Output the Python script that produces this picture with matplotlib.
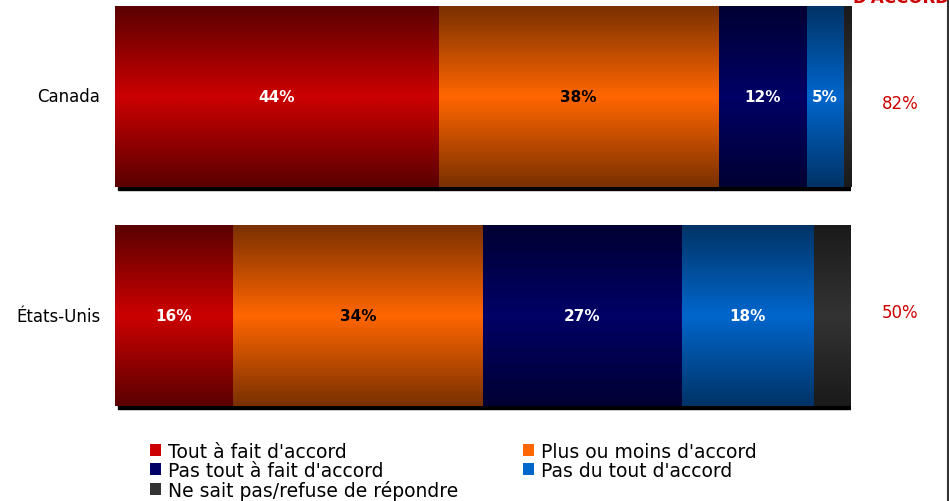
import numpy as np
import matplotlib
matplotlib.use("Agg")
import matplotlib.pyplot as plt
from matplotlib.colors import LinearSegmentedColormap
from matplotlib.patches import Rectangle
from matplotlib.lines import Line2D
import matplotlib.transforms as mtransforms

# data
countries = ["Canada", "États-Unis"]
categories = ["Tout à fait d'accord", "Plus ou moins d'accord",
              "Pas tout à fait d'accord", "Pas du tout d'accord",
              "Ne sait pas/refuse de répondre"]
canada = [44, 38, 12, 5, 1]
usa = [16, 34, 27, 18, 5]
total_accord = ["82%", "50%"]
values = [canada, usa]

# colours: (middle, edge) of the vertical gradient
mid_colors = ["#cc0000", "#ff6600", "#000066", "#0066cc", "#333333"]
edge_colors = ["#5a0000", "#7a3000", "#000033", "#003366", "#1a1a1a"]
text_colors = ["white", "black", "white", "white", None]

plt.rcParams["font.family"] = "DejaVu Sans"

fig = plt.figure(figsize=(9.49, 5.02), dpi=100)
ax = fig.add_axes([115 / 949, (502 - 430) / 502, 736 / 949, 430 / 502])
ax.axis("off")

bar_h = 181 / 219.5
grad = 1 - np.abs(np.linspace(-1, 1, 256))[:, None]  # dark edges, bright middle

shadow_tr = mtransforms.offset_copy(ax.transData, fig=fig, x=3, y=-3, units="dots")

for i, row in enumerate(values):
    total = sum(row)
    ax.add_patch(Rectangle((0, i - bar_h / 2), total, bar_h, color="black",
                           transform=shadow_tr, zorder=1))
    left = 0
    for j, v in enumerate(row):
        cmap = LinearSegmentedColormap.from_list("g%d" % j, [edge_colors[j], mid_colors[j]])
        ax.imshow(grad, cmap=cmap, aspect="auto", interpolation="bilinear",
                  extent=(left, left + v, i + bar_h / 2, i - bar_h / 2), zorder=2)
        if text_colors[j] is not None:
            ax.text(left + v / 2, i, "%d%%" % v, color=text_colors[j], ha="center",
                    va="center", fontsize=11, fontweight="bold", zorder=3)
        left += v
    ax.text(-2.0, i, countries[i], ha="right", va="center", fontsize=12, color="black")
    ax.text(106.7, i + (0.03 if i == 0 else -0.02), total_accord[i], ha="center",
            va="center", fontsize=12, color="#cc0000", clip_on=False)

ax.set_xlim(0, 100)
ax.set_ylim(1 + 113 / 219.5, -97.5 / 219.5)

# clipped header at top right
fig.text(901 / 949, 1 - 3 / 502, "D'ACCORD", ha="center", va="baseline",
         fontsize=12, fontweight="bold", color="#cc0000")

# frame line at right
fig.add_artist(Line2D([947.5 / 949, 947.5 / 949], [0, 1], color="#333333", lw=1.5))

handles = [Rectangle((0, 0), 1, 1, facecolor=c, edgecolor="none") for c in mid_colors]
order = [0, 2, 4, 1, 3]
leg = fig.legend([handles[k] for k in order], [categories[k] for k in order],
                 ncol=2, loc="upper left", bbox_to_anchor=(150 / 949, 1 - 443 / 502),
                 frameon=False, fontsize=13.5, handlelength=0.6, handleheight=0.6,
                 handletextpad=0.35, labelspacing=0.0, columnspacing=3.45,
                 borderpad=0, borderaxespad=0)

fig.savefig("out.png", dpi=100)
